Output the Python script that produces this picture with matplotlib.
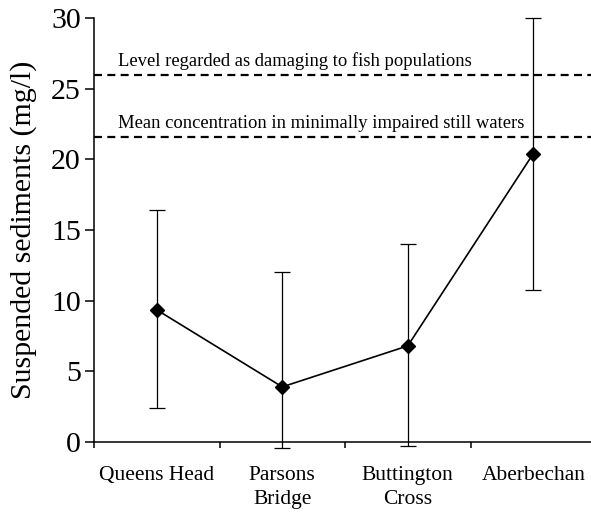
import matplotlib
matplotlib.use("Agg")
import matplotlib.pyplot as plt

# Sites along the river and suspended sediment readings (mg/l)
sites = ["Queens Head", "Parsons\nBridge", "Buttington\nCross", "Aberbechan"]
means = [9.35, 3.9, 6.8, 20.4]
upper = [16.45, 12.05, 14.0, 30.0]
lower = [2.4, -0.45, -0.25, 10.75]

# Reference levels
damaging_level = 26.0
still_water_mean = 21.6
damaging_label = "Level regarded as damaging to fish populations"
still_label = "Mean concentration in minimally impaired still waters"

plt.rcParams["font.family"] = ["Liberation Serif", "DejaVu Serif"]

fig = plt.figure(figsize=(5.91, 5.12), dpi=100)
ax = fig.add_axes([94 / 591, 1 - 442 / 512, 502 / 591, 424 / 512])

x = list(range(len(sites)))
err_lo = [m - l for m, l in zip(means, lower)]
err_hi = [u - m for m, u in zip(means, upper)]

eb = ax.errorbar(x, means, yerr=[err_lo, err_hi], fmt="none", ecolor="black",
                 elinewidth=0.9, capsize=5.5, capthick=0.9, zorder=2)
for artist in eb.lines[1] + eb.lines[2]:
    artist.set_clip_on(False)
ax.plot(x, means, color="black", lw=1.2, marker="D", markersize=7,
        markerfacecolor="black", zorder=3, clip_on=False)

for level, label in [(damaging_level, damaging_label), (still_water_mean, still_label)]:
    ax.axhline(level, color="black", lw=1.6, linestyle=(0, (3.6, 2.4)), zorder=1)
    ax.text(-0.31, level + 0.6, label, fontsize=13.4, va="baseline", ha="left")

ax.set_xlim(-0.5, 3.5)
ax.set_ylim(0, 30)
ax.set_yticks(range(0, 31, 5))
ax.set_xticks(x)
ax.set_xticklabels(sites, fontsize=15.5, linespacing=1.4)
ax.set_xticks([i - 0.5 for i in range(len(sites) + 1)], minor=True)
ax.tick_params(axis="x", which="major", length=0, pad=17)
ax.tick_params(axis="x", which="minor", length=4.5, width=1.1, direction="out")
ax.tick_params(axis="y", length=6.5, width=1.1, direction="out", labelsize=21.5, pad=3)

ax.set_ylabel("Suspended sediments (mg/l)", fontsize=21.5, labelpad=10)

for side in ["top", "right"]:
    ax.spines[side].set_visible(False)
for side in ["left", "bottom"]:
    ax.spines[side].set_linewidth(1.1)

fig.savefig("out.png", dpi=100)
